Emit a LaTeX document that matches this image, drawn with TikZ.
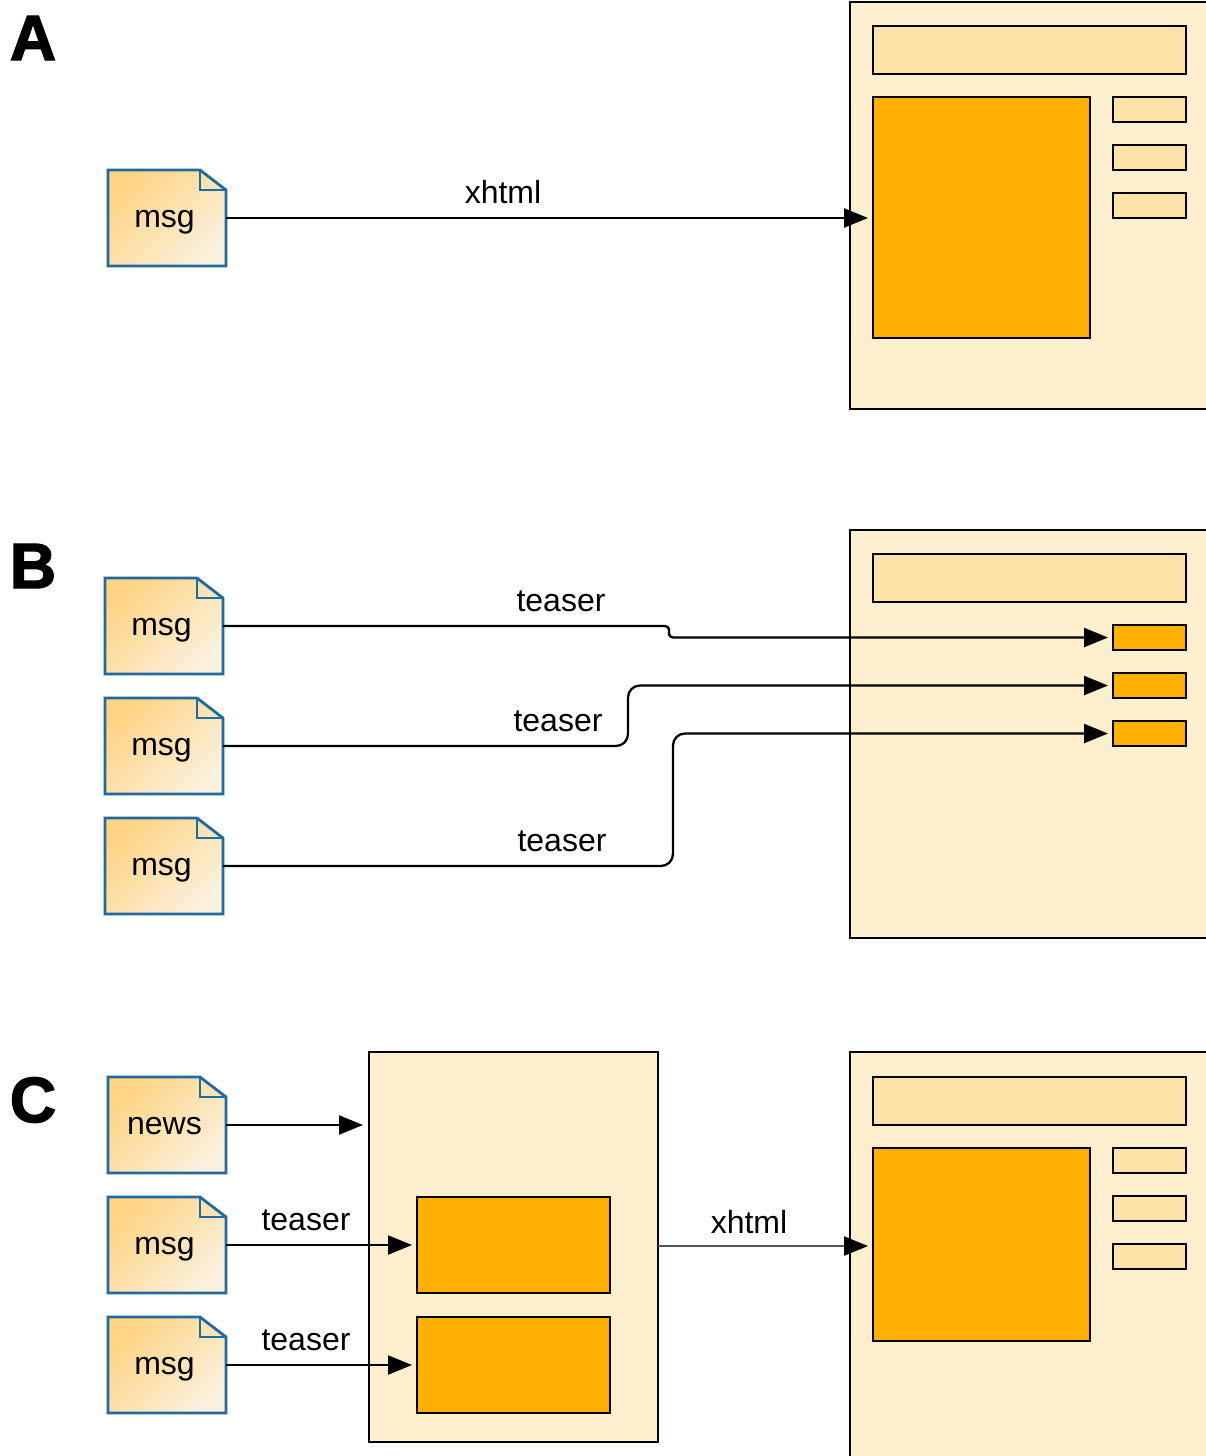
\documentclass[tikz,border=0pt]{standalone}
\usepackage{fontspec}
\setmainfont{Liberation Sans}
\newfontfamily\heavyfont[FakeBold=2.2]{Liberation Sans Bold}
\usetikzlibrary{arrows.meta}
\definecolor{panelfill}{HTML}{FEF0CF}
\definecolor{headfill}{HTML}{FEE3A8}
\definecolor{orangefill}{HTML}{FFB000}
\definecolor{docblue}{HTML}{1F6A9F}
\definecolor{docstart}{HTML}{FFD484}
\definecolor{docmid}{HTML}{FDDB9C}
\definecolor{docend}{HTML}{FAF0DC}
\definecolor{linkgrey}{HTML}{555555}
\tikzset{
  panelbox/.style={draw=black,line width=2.3pt,fill=panelfill},
  headbox/.style={draw=black,line width=2.3pt,fill=headfill},
  orangebox/.style={draw=black,line width=2.3pt,fill=orangefill},
  conn/.style={draw=black,line width=2.3pt,-{Triangle[length=24pt,width=19pt]}},
  lbl/.style={font=\fontsize{32}{36}\selectfont,text=black,inner sep=0pt},
  letter/.style={font=\heavyfont\fontsize{64}{70}\selectfont,inner sep=0pt},
  docshade/.style={left color=docstart,middle color=docmid,right color=docend,shading angle=45},
  docline/.style={draw=docblue,line width=2.8pt,line join=miter},
  every node/.append style={outer sep=0pt}
}
% name, x1, y1, x2, y2, style
\newcommand{\bx}[6]{\node[#6,inner sep=0pt,anchor=north west,minimum width={(#4-#2)*1pt},minimum height={(#5-#3)*1pt}] (#1) at (#2,#3) {};}
% name, x1, y1, text
\newcommand{\docnote}[4]{%
  \shade[docshade] (#2,#3) -- ++(92,0) -- ++(26,20) -- ++(0,76) -- ++(-118,0) -- cycle;
  \draw[docline] (#2,#3) -- ++(92,0) -- ++(26,20) -- ++(0,76) -- ++(-118,0) -- cycle;
  \draw[docline] (#2,#3) ++(92,0) -- ++(0,20) -- ++(26,0);
  \node[minimum width=118pt,minimum height=96pt,anchor=north west,inner sep=0pt] (#1) at (#2,#3) {};
  \node[lbl,anchor=base] (#1t) at ([xshift=-2.5pt,yshift=-9pt]#1.center) {#4};}
\begin{document}
\begin{tikzpicture}[x=1pt,y=-1pt]
\clip (0,0) rectangle (1206,1456);
\fill[white] (0,0) rectangle (1206,1456);
% letters
\node[letter] (la) at (33,38) {A};
\node[letter] (lb) at (33,566) {B};
\node[letter] (lc) at (33,1100) {C};
% A
\bx{pa}{850}{2}{1220}{409}{panelbox}
\bx{ha}{873}{26}{1186}{74}{headbox}
\bx{ma}{873}{97}{1090}{338}{orangebox}
\bx{sa1}{1113}{97}{1186}{122}{headbox}
\bx{sa2}{1113}{145}{1186}{170}{headbox}
\bx{sa3}{1113}{193}{1186}{218}{headbox}
\docnote{da}{108}{170}{msg}
\draw[conn,shorten >=5pt] (da.east) -- (da.east -| ma.west);
\node[lbl] (xa) at (503,192) {xhtml};
% B
\bx{pb}{850}{530}{1220}{938}{panelbox}
\bx{hb}{873}{554}{1186}{602}{headbox}
\bx{sb1}{1113}{625}{1186}{650}{orangebox}
\bx{sb2}{1113}{673}{1186}{698}{orangebox}
\bx{sb3}{1113}{721}{1186}{746}{orangebox}
\docnote{db1}{105}{578}{msg}
\docnote{db2}{105}{698}{msg}
\docnote{db3}{105}{818}{msg}
\coordinate (j1) at (669,631.5);
\coordinate (j2) at (628,715);
\coordinate (j3) at (673,800);
\draw[conn,shorten >=5pt,rounded corners=4pt] (db1.east) -| (j1) |- (sb1.west);
\draw[conn,shorten >=5pt,rounded corners=12pt] (db2.east) -| (j2) |- (sb2.west);
\draw[conn,shorten >=5pt,rounded corners=12pt] (db3.east) -| (j3) |- (sb3.west);
\node[lbl] (tb1) at (561,601) {teaser};
\node[lbl] (tb2) at (558,721) {teaser};
\node[lbl] (tb3) at (562,841) {teaser};
% C
\bx{pc}{369}{1052}{658}{1442}{panelbox}
\bx{oc1}{417}{1197}{610}{1293}{orangebox}
\bx{oc2}{417}{1317}{610}{1413}{orangebox}
\bx{pd}{850}{1052}{1220}{1470}{panelbox}
\bx{hd}{873}{1077}{1186}{1125}{headbox}
\bx{md}{873}{1148}{1090}{1341}{orangebox}
\bx{sd1}{1113}{1148}{1186}{1173}{headbox}
\bx{sd2}{1113}{1196}{1186}{1221}{headbox}
\bx{sd3}{1113}{1244}{1186}{1269}{headbox}
\docnote{dc1}{108}{1077}{news}
\docnote{dc2}{108}{1197}{msg}
\docnote{dc3}{108}{1317}{msg}
\coordinate (nt) at (pc.west |- dc1.east);
\draw[conn,shorten >=6pt] (dc1.east) -- (nt);
\draw[conn,shorten >=5pt] (dc2.east) -- (oc1.west);
\draw[conn,shorten >=5pt] (dc3.east) -- (oc2.west);
\draw[conn,shorten >=5pt,draw=linkgrey,{}-{Triangle[length=24pt,width=19pt,black]}] ([yshift=-1pt]oc1.east -| pc.east) -- ([yshift=-1pt]oc1.east -| md.west);
\node[lbl] (tc1) at (306,1220) {teaser};
\node[lbl] (tc2) at (306,1340) {teaser};
\node[lbl] (xc) at (749,1222) {xhtml};
\end{tikzpicture}
\end{document}
